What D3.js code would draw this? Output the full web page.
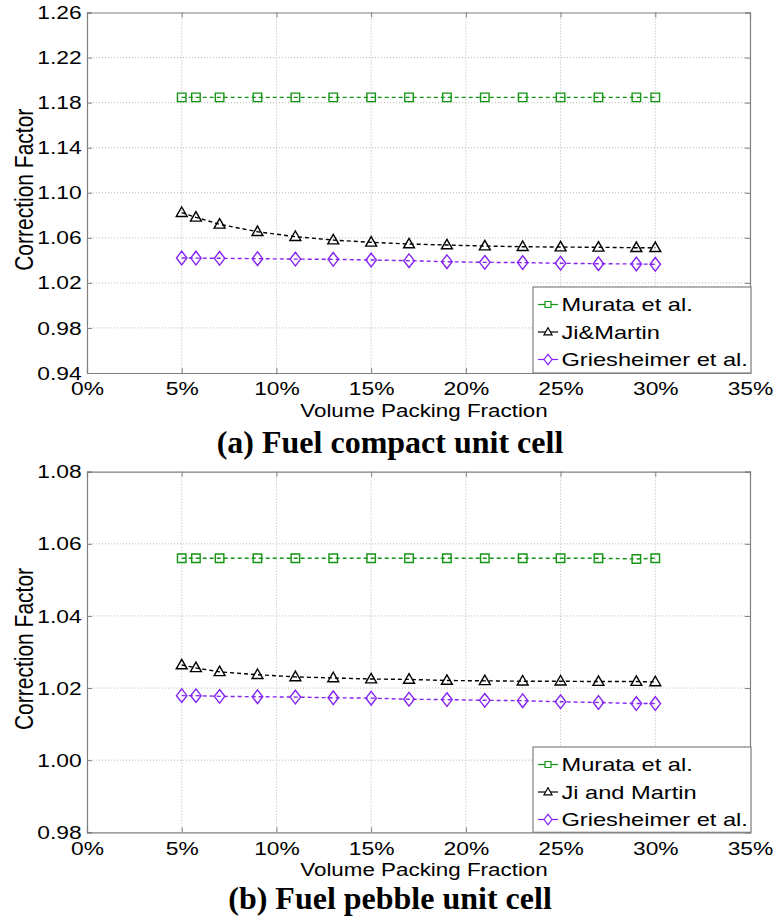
<!DOCTYPE html>
<html>
<head>
<meta charset="utf-8">
<script src="https://cdn.jsdelivr.net/npm/d3@7"></script>
<style>
body { margin: 0; background: #fff; }
text { font-family: "Liberation Sans", Arial, sans-serif; fill: #000; }
.title { font-family: "Liberation Serif", "Times New Roman", serif; font-weight: bold; }
</style>
</head>
<body>
<svg width="774" height="921"></svg>
<script>
// packing fraction (%)
var fractions = [5, 5.75, 7, 9, 11, 13, 15, 17, 19, 21, 23, 25, 27, 29, 30];

// (a) fuel compact unit cell
var compactMurata = [1.1847, 1.1847, 1.1847, 1.1847, 1.1847, 1.1847, 1.1847, 1.1847, 1.1847, 1.1847, 1.1847, 1.1847, 1.1847, 1.1847, 1.1847];
var compactJi = [1.0823, 1.0782, 1.0720, 1.0654, 1.0610, 1.0580, 1.0560, 1.0545, 1.0536, 1.0527, 1.0521, 1.0518, 1.0516, 1.0512, 1.0512];
var compactGries = [1.0421, 1.0420, 1.0418, 1.0415, 1.0411, 1.0409, 1.0403, 1.0397, 1.0388, 1.0382, 1.0380, 1.0374, 1.0370, 1.0368, 1.0365];

// (b) fuel pebble unit cell
var pebbleMurata = [1.0560, 1.0560, 1.0560, 1.0560, 1.0560, 1.0560, 1.0560, 1.0560, 1.0560, 1.0560, 1.0560, 1.0560, 1.0560, 1.0558, 1.0560];
var pebbleJi = [1.0264, 1.0256, 1.0245, 1.0237, 1.0231, 1.0228, 1.0225, 1.0224, 1.0221, 1.0220, 1.0219, 1.0219, 1.0218, 1.0218, 1.0217];
var pebbleGries = [1.0179, 1.0179, 1.0177, 1.0176, 1.0175, 1.0173, 1.0172, 1.0169, 1.0168, 1.0166, 1.0165, 1.0162, 1.0160, 1.0157, 1.0157];

var xTicks = [0, 5, 10, 15, 20, 25, 30, 35];
var compactTicks = [0.94, 0.98, 1.02, 1.06, 1.10, 1.14, 1.18, 1.22, 1.26];
var pebbleTicks = [0.98, 1.00, 1.02, 1.04, 1.06, 1.08];

var compactNames = ["Murata et al.", "Ji&Martin", "Griesheimer et al."];
var pebbleNames = ["Murata et al.", "Ji and Martin", "Griesheimer et al."];

var colors = ["#139413", "#000000", "#8424f2"];
var shapes = ["square", "triangle", "diamond"];

var svg = d3.select("svg");

// the MATLAB figure text is a bit wider than normal Arial
var SX = 1.2;

function markerPath(shape, s) {
  if (shape == "square") {
    return "M" + (-s/2) + "," + (-s/2) + "h" + s + "v" + s + "h" + (-s) + "Z";
  } else if (shape == "triangle") {
    var w = s * 1.15, h = s;
    return "M0," + (-h*0.6) + "L" + (w/2) + "," + (h*0.4) + "L" + (-w/2) + "," + (h*0.4) + "Z";
  } else {
    var w2 = s * 0.5, h2 = s * 0.65;
    return "M0," + (-h2) + "L" + w2 + ",0L0," + h2 + "L" + (-w2) + ",0Z";
  }
}

var markerSize = { square: 8.5, triangle: 9.5, diamond: 10.5 };
var legendSize = { square: 6, triangle: 7, diamond: 8 };

function drawPanel(opts) {
  var g = svg.append("g");
  var x = d3.scaleLinear().domain([0, 35]).range([87, 750]);
  var y = d3.scaleLinear().domain(opts.domain).range([opts.bottom, opts.top]);

  // grid
  g.selectAll(".vgrid").data(xTicks.slice(1, -1)).enter().append("line")
    .attr("x1", d => x(d)).attr("x2", d => x(d))
    .attr("y1", opts.top).attr("y2", opts.bottom)
    .attr("stroke", "#b8b8b8").attr("stroke-width", 1).attr("stroke-dasharray", "1,2");
  g.selectAll(".hgrid").data(opts.ticks.slice(1, -1)).enter().append("line")
    .attr("x1", 87).attr("x2", 750)
    .attr("y1", d => y(d)).attr("y2", d => y(d))
    .attr("stroke", "#b8b8b8").attr("stroke-width", 1).attr("stroke-dasharray", "1,2");

  // axes (box with inward ticks on all sides)
  var xa = d3.axisBottom(x).tickValues(xTicks).tickSize(-5).tickPadding(9).tickFormat(d => d + "%");
  var ya = d3.axisLeft(y).tickValues(opts.ticks).tickSize(-5).tickPadding(4.5).tickFormat(d3.format(".2f"));
  g.append("g").attr("transform", "translate(0," + opts.bottom + ")").call(xa)
    .selectAll(".tick text").attr("dy", "0.71em");
  g.append("g").attr("transform", "translate(87,0)").call(ya);
  g.append("g").attr("transform", "translate(0," + opts.top + ")")
    .call(d3.axisTop(x).tickValues(xTicks).tickSize(-5).tickFormat(""));
  g.append("g").attr("transform", "translate(750,0)")
    .call(d3.axisRight(y).tickValues(opts.ticks).tickSize(-5).tickFormat(""));
  g.selectAll(".domain").attr("stroke", "#808080").attr("stroke-width", 1.2);
  g.selectAll(".tick line").attr("stroke", "#808080");
  g.selectAll(".tick text").style("font-size", "19px").attr("fill", "#000")
    .attr("transform", "scale(" + SX + ",1)");

  // series
  var line = d3.line().x((d, i) => x(fractions[i])).y(d => y(d));
  opts.series.forEach(function(vals, k) {
    g.append("path").datum(vals)
      .attr("d", line).attr("fill", "none")
      .attr("stroke", colors[k]).attr("stroke-width", 1.4)
      .attr("stroke-dasharray", "4,3");
    g.selectAll(".m" + k).data(vals).enter().append("path")
      .attr("transform", (d, i) => "translate(" + x(fractions[i]) + "," + y(d) + ")")
      .attr("d", markerPath(shapes[k], markerSize[shapes[k]]))
      .attr("fill", "none").attr("stroke", colors[k]).attr("stroke-width", 1.4);
  });

  // legend
  var lg = g.append("g").attr("transform", "translate(" + opts.legend[0] + "," + opts.legend[1] + ")");
  lg.append("rect").attr("width", 751 - opts.legend[0]).attr("height", opts.bottom - opts.legend[1])
    .attr("fill", "#fff").attr("stroke", "#808080").attr("stroke-width", 1.2);
  opts.names.forEach(function(name, k) {
    var cy = 17.5 + k * 27.5;
    lg.append("line").attr("x1", 5).attr("x2", 25).attr("y1", cy).attr("y2", cy)
      .attr("stroke", colors[k]).attr("stroke-width", 1.2);
    lg.append("path").attr("transform", "translate(15," + cy + ")")
      .attr("d", markerPath(shapes[k], legendSize[shapes[k]]))
      .attr("fill", "#fff").attr("stroke", colors[k]).attr("stroke-width", 1.2);
    lg.append("g").attr("transform", "translate(28.5," + (cy + 6.7) + ")")
      .append("text").attr("transform", "scale(1.27,1)")
      .style("font-size", "18.6px").text(name);
  });

  // axis labels and title
  g.append("g").attr("transform", "translate(424," + (opts.bottom + 44) + ")")
    .append("text").attr("transform", "scale(1.28,1)")
    .attr("text-anchor", "middle").style("font-size", "17.5px").text("Volume Packing Fraction");
  g.append("text")
    .attr("transform", "translate(33," + ((opts.top + opts.bottom) / 2 - 3) + ") scale(1.2,1) rotate(-90)")
    .attr("text-anchor", "middle").style("font-size", "21px").text("Correction Factor");
  g.append("text").attr("class", "title").attr("x", 390).attr("y", opts.bottom + opts.titleOff)
    .attr("text-anchor", "middle").style("font-size", "32px").text(opts.title);
}

drawPanel({
  top: 12.5, bottom: 373, domain: [0.94, 1.26], ticks: compactTicks,
  series: [compactMurata, compactJi, compactGries], names: compactNames,
  legend: [533, 287], title: "(a) Fuel compact unit cell", titleOff: 80
});

drawPanel({
  top: 471.7, bottom: 832.3, domain: [0.98, 1.08], ticks: pebbleTicks,
  series: [pebbleMurata, pebbleJi, pebbleGries], names: pebbleNames,
  legend: [533, 747], title: "(b) Fuel pebble unit cell", titleOff: 77
});
</script>
</body>
</html>
